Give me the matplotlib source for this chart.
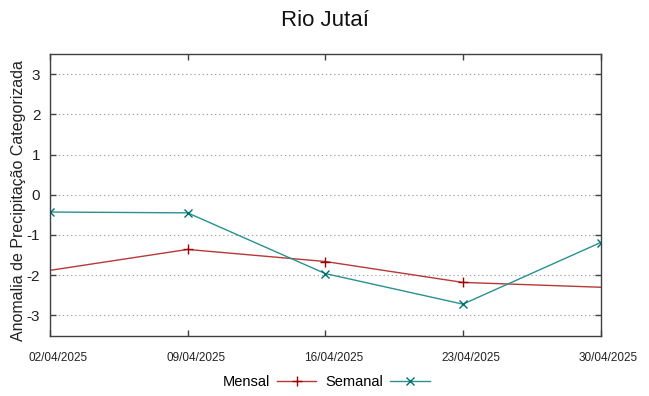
import matplotlib
matplotlib.use("Agg")
import matplotlib.pyplot as plt
import matplotlib.transforms as mtransforms
import pandas as pd

plt.rcParams["font.family"] = ["Liberation Sans", "DejaVu Sans"]

# data
DATES = ["2025-04-02", "2025-04-09", "2025-04-16", "2025-04-23", "2025-04-30"]
TICK_LABELS = ["02/04/2025", "09/04/2025", "16/04/2025", "23/04/2025", "30/04/2025"]
MENSAL = [-1.88, -1.36, -1.66, -2.18, -2.30]
SEMANAL = [-0.43, -0.45, -1.96, -2.72, -1.19]
Y_TICKS = [-3, -2, -1, 0, 1, 2, 3]

dates = pd.to_datetime(DATES)

fig = plt.figure(figsize=(6.49, 3.96), dpi=100)
ax = fig.add_axes([50 / 649, 1 - 335.5 / 396, 550.5 / 649, 281.5 / 396])

# mensal points at the edges fall outside the plotted range (no marker shown)
ax.plot(dates, MENSAL, color="#b83838", lw=1.0, marker="+", ms=7, mew=1.0,
        mec="#a00000", markevery=[1, 2, 3], label="Mensal")
ax.plot(dates, SEMANAL, color="#2a9090", lw=1.0, marker="x", ms=6, mew=1.0,
        mec="#007070", label="Semanal")

ax.set_xlim(dates[0], dates[-1])
ax.set_ylim(-3.5, 3.5)
ax.set_xticks(dates)
ax.set_xticklabels(TICK_LABELS, fontsize=8.5)
ax.set_yticks(Y_TICKS)
ax.set_yticklabels([str(t) for t in Y_TICKS], fontsize=11)

ax.tick_params(direction="in", top=True, right=True, length=4, width=1,
               color="#404040", labelcolor="#222222")
ax.tick_params(axis="x", pad=12)
ax.tick_params(axis="y", pad=7)

# gnuplot puts the date labels a little right of the tick
# (done after tick_params, which resets the label transforms)
shift = mtransforms.ScaledTranslation(8 / 100, 0, fig.dpi_scale_trans)
for tick in ax.xaxis.get_major_ticks():
    tick.label1.set_transform(tick.label1.get_transform() + shift)

ax.grid(axis="y", linestyle=(0, (1.2, 2.5)), color="#a0a0a0", lw=0.8)
for sp in ax.spines.values():
    sp.set_color("#404040")
    sp.set_linewidth(1.0)

ax.set_ylabel("Anomalia de Precipitação Categorizada", fontsize=11.5, color="#222222")
ax.yaxis.set_label_coords(-0.043, 0.478)

fig.text(0.5, 1 - 20 / 396, "Rio Jutaí", fontsize=16, ha="center", va="center",
         color="#111111")

fig.legend(loc="center", bbox_to_anchor=(326 / 649, 1 - 382 / 396), ncol=2,
           frameon=False, fontsize=10.5, markerfirst=False, handlelength=2.7,
           handletextpad=0.5, columnspacing=0.6)

fig.savefig("out.png", dpi=100, facecolor="white")
